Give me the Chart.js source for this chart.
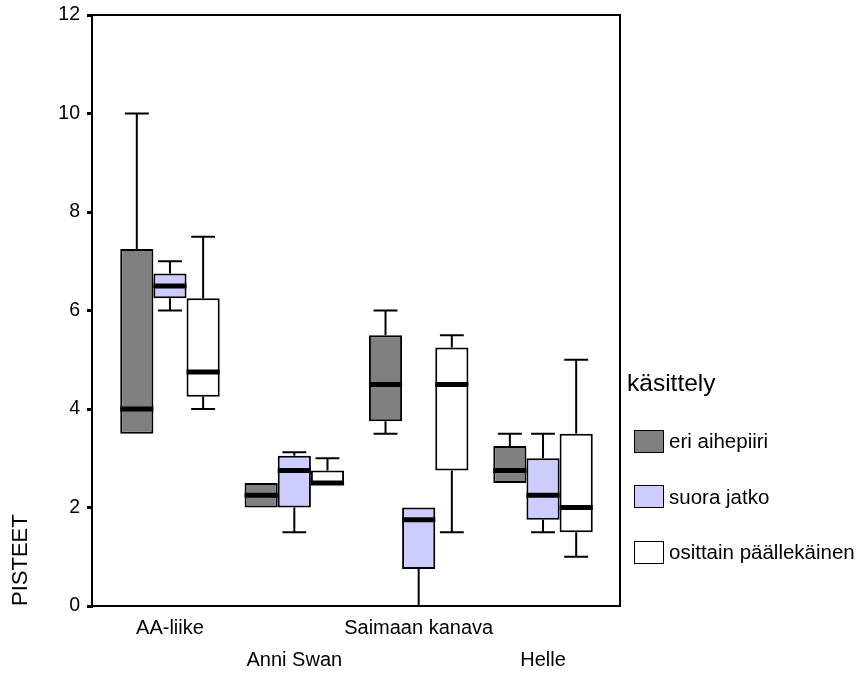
<!DOCTYPE html>
<html>
<head>
<meta charset="utf-8">
<script src="https://cdn.jsdelivr.net/npm/chart.js@4.4.0/dist/chart.umd.min.js"></script>
<style>
  html, body { margin: 0; padding: 0; background: #fff; }
  #wrap { position: relative; width: 865px; height: 673px; font-family: "Liberation Sans", Arial, sans-serif; color: #000; }
  #legend .ttl { position: absolute; left: 627px; top: 370px; font-size: 24.5px; line-height: 26px; }
  #legend .item { position: absolute; left: 634px; height: 24px; display: flex; align-items: center; font-size: 20.5px; }
  #legend .sw { width: 28px; height: 21px; border: 1.5px solid #000; margin-right: 5px; }
</style>
</head>
<body>
<div id="wrap">
  <canvas id="myChart" width="865" height="673"></canvas>
  <div id="legend"></div>
</div>
<script>
// categories and series
const categories = ['AA-liike', 'Anni Swan', 'Saimaan kanava', 'Helle'];
const seriesNames = ['eri aihepiiri', 'suora jatko', 'osittain päällekäinen'];
const seriesColors = ['#808080', '#ccccff', '#ffffff'];
const yTicks = [0, 2, 4, 6, 8, 10, 12];

// eri aihepiiri
const eriMin = [3.5, 2.0, 3.5, 2.5];
const eriQ1 = [3.5, 2.0, 3.75, 2.5];
const eriMed = [4.0, 2.25, 4.5, 2.75];
const eriQ3 = [7.25, 2.5, 5.5, 3.25];
const eriMax = [10.0, 2.5, 6.0, 3.5];

// suora jatko
const suoraMin = [6.0, 1.5, 0.0, 1.5];
const suoraQ1 = [6.25, 2.0, 0.75, 1.75];
const suoraMed = [6.5, 2.75, 1.75, 2.25];
const suoraQ3 = [6.75, 3.05, 2.0, 3.0];
const suoraMax = [7.0, 3.12, 2.0, 3.5];

// osittain päällekäinen
const osMin = [4.0, 2.5, 1.5, 1.0];
const osQ1 = [4.25, 2.5, 2.75, 1.5];
const osMed = [4.75, 2.5, 4.5, 2.0];
const osQ3 = [6.25, 2.75, 5.25, 3.5];
const osMax = [7.5, 3.0, 5.5, 5.0];

const stats = [
    { min: eriMin, q1: eriQ1, med: eriMed, q3: eriQ3, max: eriMax },
    { min: suoraMin, q1: suoraQ1, med: suoraMed, q3: suoraQ3, max: suoraMax },
    { min: osMin, q1: osQ1, med: osMed, q3: osQ3, max: osMax },
];

const FONT = '"Liberation Sans", Arial, sans-serif';

// whiskers + medians drawn on top of the floating bars
const boxPlugin = {
    id: 'boxWhiskers',
    afterDatasetsDraw(chart) {
        const ctx = chart.ctx;
        const yScale = chart.scales.y;
        ctx.save();
        ctx.strokeStyle = '#000';
        ctx.lineCap = 'butt';
        chart.data.datasets.forEach((ds, di) => {
            const s = stats[di];
            chart.getDatasetMeta(di).data.forEach((bar, i) => {
                const x = bar.x;
                const w = bar.width;
                const cap = w * 0.36;
                const pQ1 = yScale.getPixelForValue(s.q1[i]);
                const pQ3 = yScale.getPixelForValue(s.q3[i]);
                const pMin = yScale.getPixelForValue(s.min[i]);
                const pMax = yScale.getPixelForValue(s.max[i]);
                const pMed = yScale.getPixelForValue(s.med[i]);
                ctx.lineWidth = 2;
                if (s.max[i] > s.q3[i]) {
                    ctx.beginPath();
                    ctx.moveTo(x, pQ3); ctx.lineTo(x, pMax);
                    ctx.moveTo(x - cap, pMax); ctx.lineTo(x + cap, pMax);
                    ctx.stroke();
                }
                if (s.min[i] < s.q1[i]) {
                    ctx.beginPath();
                    ctx.moveTo(x, pQ1); ctx.lineTo(x, pMin);
                    ctx.moveTo(x - cap, pMin); ctx.lineTo(x + cap, pMin);
                    ctx.stroke();
                }
                ctx.lineWidth = 5;
                ctx.beginPath();
                ctx.moveTo(x - w / 2, pMed); ctx.lineTo(x + w / 2, pMed);
                ctx.stroke();
            });
        });
        ctx.restore();
    }
};

// top and right edge of the plot frame
const framePlugin = {
    id: 'frame',
    afterDraw(chart) {
        const { ctx, chartArea: a } = chart;
        ctx.save();
        ctx.strokeStyle = '#000';
        ctx.lineWidth = 2;
        ctx.beginPath();
        ctx.moveTo(a.left, a.top); ctx.lineTo(a.right, a.top); ctx.lineTo(a.right, a.bottom);
        ctx.stroke();
        ctx.restore();
    }
};

const datasets = stats.map((s, di) => ({
    label: seriesNames[di],
    data: categories.map((c, i) => ({ x: i + 1, y: [s.q1[i], s.q3[i]] })),
    backgroundColor: seriesColors[di],
    borderColor: '#000',
    borderWidth: 2,
    borderSkipped: false,
    categoryPercentage: 0.8,
    barPercentage: 1.0,
}));

new Chart(document.getElementById('myChart'), {
    type: 'bar',
    data: { datasets: datasets },
    options: {
        responsive: false,
        animation: false,
        layout: { padding: { top: 15, right: 245, left: 0, bottom: 0 } },
        plugins: { legend: { display: false }, tooltip: { enabled: false } },
        scales: {
            x: {
                type: 'linear',
                offset: false,
                min: 0.373,
                max: 4.619,
                afterBuildTicks: s => { s.ticks = categories.map((c, i) => ({ value: i + 1 })); },
                afterFit: s => { s.height = 67; s.paddingLeft = 0; s.paddingRight = 0; },
                grid: { display: false, drawTicks: false },
                border: { display: true, color: '#000', width: 2 },
                ticks: {
                    autoSkip: false,
                    maxRotation: 0,
                    color: '#000',
                    padding: 6,
                    font: { family: FONT, size: 20, lineHeight: 1.6 },
                    callback: v => {
                        const i = Math.round(v) - 1;
                        return i % 2 === 0 ? categories[i] : ['', categories[i]];
                    }
                }
            },
            y: {
                min: 0,
                max: 12,
                afterBuildTicks: s => { s.ticks = yTicks.map(v => ({ value: v })); },
                afterFit: s => { s.width = 92; s.paddingTop = 0; s.paddingBottom = 0; },
                grid: { display: true, drawOnChartArea: false, drawTicks: true, tickLength: 5, color: '#000', lineWidth: 3 },
                border: { display: true, color: '#000', width: 2 },
                ticks: { color: '#000', padding: 7, font: { family: FONT, size: 19.5 } },
                title: {
                    display: true,
                    text: 'PISTEET',
                    align: 'start',
                    color: '#000',
                    padding: { top: 8 },
                    font: { family: FONT, size: 22 }
                }
            }
        }
    },
    plugins: [boxPlugin, framePlugin]
});

// legend
const legend = document.getElementById('legend');
const ttl = document.createElement('div');
ttl.className = 'ttl';
ttl.textContent = 'käsittely';
legend.appendChild(ttl);
seriesNames.forEach((name, i) => {
    const item = document.createElement('div');
    item.className = 'item';
    item.style.top = (429 + i * 55.5) + 'px';
    const sw = document.createElement('div');
    sw.className = 'sw';
    sw.style.background = seriesColors[i];
    const txt = document.createElement('span');
    txt.textContent = name;
    item.appendChild(sw);
    item.appendChild(txt);
    legend.appendChild(item);
});
</script>
</body>
</html>
